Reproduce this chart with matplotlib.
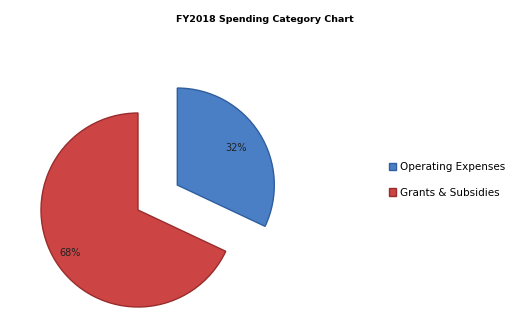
import matplotlib
matplotlib.use("Agg")
import matplotlib.pyplot as plt
import numpy as np

categories = ["Operating Expenses", "Grants & Subsidies"]
values = [32, 68]
colors = ["#4A7FC6", "#CC4444"]
edges = ["#2E5E9E", "#9A2C2C"]
title = "FY2018 Spending Category Chart"

R = 97
fig = plt.figure(figsize=(5.2, 3.33), dpi=100)
ax = fig.add_axes([0, 0, 1, 1])

wedges, texts, autotexts = ax.pie(
    values, colors=colors, startangle=-25.2, counterclock=True,
    explode=[0.48 * R, 0], center=(138, 123), radius=R,
    autopct="%1.0f%%", pctdistance=0.78,
    wedgeprops=dict(linewidth=1.0),
    textprops=dict(fontsize=7, color="#222222", family="DejaVu Sans"),
    frame=True,
)
ax.set_xlim(0, 520)
ax.set_ylim(0, 333)
ax.set_aspect("equal")
ax.axis("off")
for w, ec in zip(wedges, edges):
    w.set_edgecolor(ec)

pcts = [0.72, 0.83]
for w, t, p in zip(wedges, autotexts, pcts):
    ang = np.deg2rad((w.theta1 + w.theta2) / 2)
    cx, cy = w.center
    t.set_position((cx + p * w.r * np.cos(ang), cy + p * w.r * np.sin(ang)))

fig.text(265 / 520, 1 - 19 / 333, title, ha="center", va="center",
         fontsize=6.8, fontweight="bold", family="DejaVu Sans")

leg = ax.legend(wedges, categories, loc="center left",
                bbox_to_anchor=(385 / 520, 1 - 180 / 333),
                bbox_transform=fig.transFigure,
                frameon=False, handlelength=0.7, handleheight=0.7,
                handletextpad=0.3, labelspacing=1.45, borderaxespad=0,
                prop=dict(family="DejaVu Sans", size=7.5))

fig.savefig("out.png", dpi=100)
